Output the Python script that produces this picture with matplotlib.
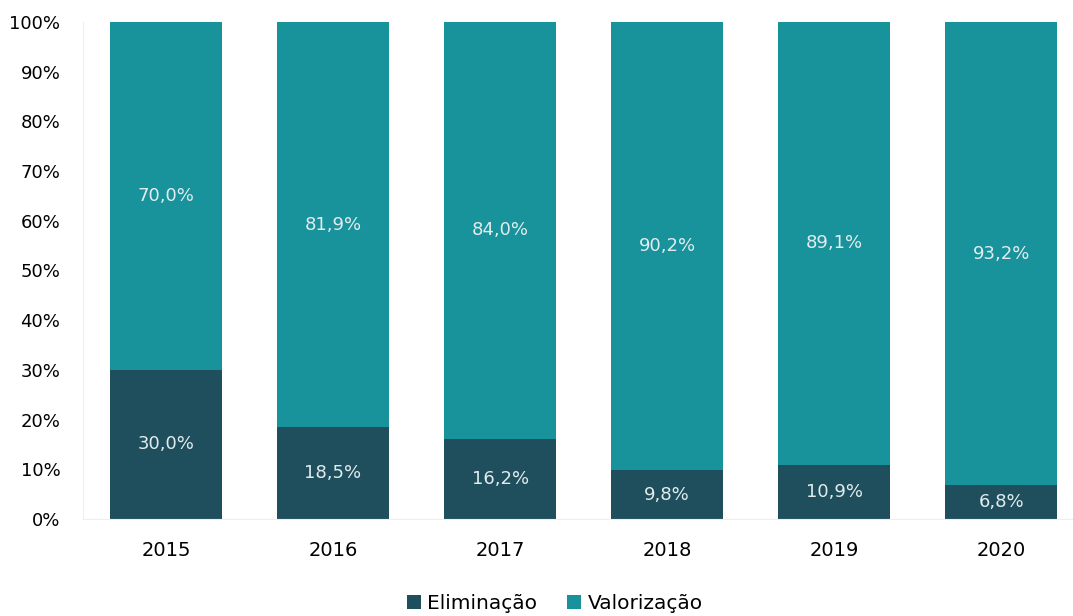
import matplotlib.pyplot as plt
import numpy as np

anos = ['2015', '2016', '2017', '2018', '2019', '2020']
eliminacao = [30.0, 18.5, 16.2, 9.8, 10.9, 6.8]
valorizacao = [70.0, 81.9, 84.0, 90.2, 89.1, 93.2]

cor_elim = '#1f4f5d'
cor_val = '#18939b'
cor_texto = '#e2ecee'

plt.rcParams['font.family'] = ['DejaVu Sans']

# 100% empilhado (normaliza como no Excel)
tot = np.array(eliminacao) + np.array(valorizacao)
e = np.array(eliminacao) / tot * 100
v = np.array(valorizacao) / tot * 100
x = np.arange(len(anos))

fig = plt.figure(figsize=(10.73, 6.16), dpi=100)
ax = fig.add_axes([0.0769, 0.1575, 0.9231, 0.807])

b1 = ax.bar(x, e, width=0.67, color=cor_elim, label='Eliminação')
b2 = ax.bar(x, v, width=0.67, bottom=e, color=cor_val, label='Valorização')

for i in range(len(anos)):
    ax.text(x[i], e[i] / 2, f'{eliminacao[i]:.1f}%'.replace('.', ','),
            ha='center', va='center', color=cor_texto, fontsize=13)
    ax.text(x[i], e[i] + v[i] / 2, f'{valorizacao[i]:.1f}%'.replace('.', ','),
            ha='center', va='center', color=cor_texto, fontsize=13)

ax.set_xlim(-0.5, 5.43)
ax.set_ylim(0, 100)
ax.set_yticks(range(0, 101, 10))
ax.set_yticklabels([f'{t}%' for t in range(0, 101, 10)], fontsize=13)
ax.set_xticks(x)
ax.set_xticklabels(anos, fontsize=14)
ax.tick_params(axis='y', length=0, pad=16)
ax.tick_params(axis='x', length=0, pad=16)

for s in ['top', 'right']:
    ax.spines[s].set_visible(False)
ax.spines['left'].set_color('#eeeeee')
ax.spines['bottom'].set_color('#eeeeee')

fig.legend(handles=[b1, b2], loc='center', bbox_to_anchor=(0.517, 0.02),
           ncol=2, frameon=False, fontsize=14.5, handlelength=0.7,
           handleheight=0.7, handletextpad=0.3, columnspacing=1.5)

plt.savefig('out.png', dpi=100)
